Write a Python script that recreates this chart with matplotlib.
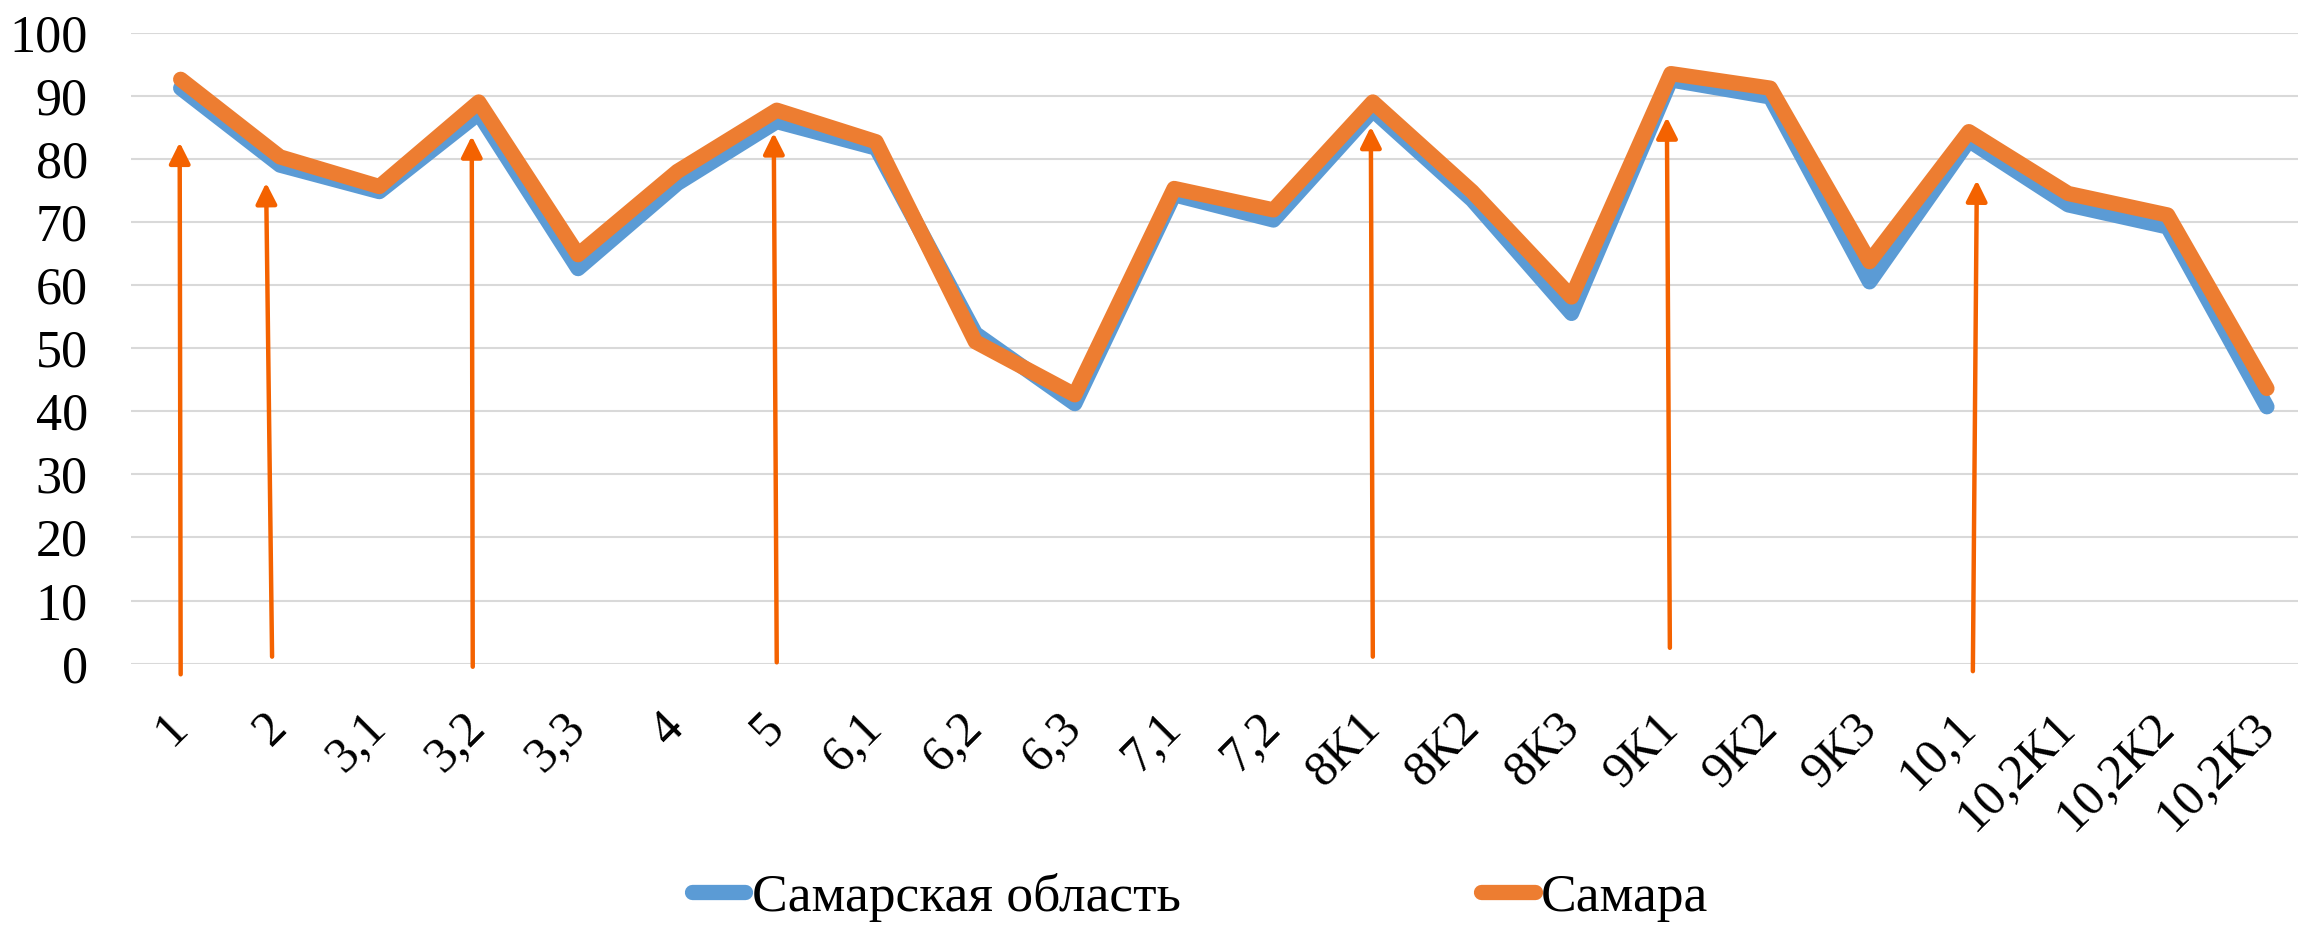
import matplotlib
matplotlib.use("Agg")
import matplotlib.pyplot as plt

plt.rcParams['font.family'] = ['Liberation Serif', 'DejaVu Serif']

categories = ["1", "2", "3,1", "3,2", "3,3", "4", "5", "6,1", "6,2", "6,3", "7,1", "7,2",
              "8К1", "8К2", "8К3", "9К1", "9К2", "9К3", "10,1", "10,2К1", "10,2К2", "10,2К3"]
oblast = [91.2, 79.0, 74.8, 87.2, 62.6, 76.1, 85.9, 81.7, 52.3, 41.2, 74.3, 70.3,
          87.7, 73.5, 55.5, 92.5, 89.8, 60.5, 82.9, 72.7, 69.2, 40.7]
samara = [92.6, 80.3, 75.6, 89.0, 64.8, 78.0, 87.7, 82.7, 51.0, 42.6, 75.3, 71.9,
          89.0, 74.8, 58.1, 93.5, 91.2, 63.7, 84.3, 74.5, 71.1, 43.6]
series_names = ["Самарская область", "Самара"]
yticks = list(range(0, 101, 10))

# annotation arrows: (x_start, y_start, x_tip, y_tip) in category index / value units
arrow_x0 = [0.00, 0.92, 2.94, 6.00, 12.00, 14.99, 18.04]
arrow_y0 = [-1.7, 1.1, -0.5, 0.2, 1.1, 2.5, -1.2]
arrow_x1 = [-0.01, 0.86, 2.93, 5.97, 11.98, 14.96, 18.08]
arrow_y1 = [82.6, 76.2, 83.6, 84.1, 85.1, 86.6, 76.6]

blue = '#5B9BD5'
orange = '#ED7D31'
arrow_color = '#F46200'

W, H = 2298, 932
fig = plt.figure(figsize=(W / 100, H / 100), dpi=100)
ax = fig.add_axes([131 / W, (H - 663.6) / H, 2185.6 / W, 631.0 / H])

x = list(range(len(categories)))
l1, = ax.plot(x, oblast, color=blue, lw=11, solid_capstyle='round',
              solid_joinstyle='round', zorder=3, clip_on=False, label=series_names[0])
l2, = ax.plot(x, samara, color=orange, lw=11, solid_capstyle='round',
              solid_joinstyle='round', zorder=4, clip_on=False, label=series_names[1])

for xs, ys, xt, yt in zip(arrow_x0, arrow_y0, arrow_x1, arrow_y1):
    ax.annotate('', xy=(xt, yt), xytext=(xs, ys), annotation_clip=False,
                arrowprops=dict(arrowstyle='-|>,head_length=0.6,head_width=0.3',
                                mutation_scale=21, lw=3.2, color=arrow_color,
                                shrinkA=0, shrinkB=0),
                zorder=5)

ax.set_xlim(-0.5, len(categories) - 0.5)
ax.set_ylim(0, 100)
ax.set_yticks(yticks)
ax.set_yticklabels([str(v) for v in yticks], fontsize=37.5)
ax.set_xticks(x)
ax.set_xticklabels(categories, fontsize=36, rotation=45, ha='right',
                   va='center', rotation_mode='anchor')
ax.tick_params(axis='both', length=0)
ax.tick_params(axis='y', pad=31)
ax.tick_params(axis='x', pad=41)
for s in ax.spines.values():
    s.set_visible(False)
ax.yaxis.grid(True, color='#D9D9D9', lw=1.5)
ax.set_axisbelow(True)

fig.legend(handles=[l1, l2], labels=series_names, loc='center',
           bbox_to_anchor=(1200 / W, 35 / H), ncol=2, frameon=False,
           fontsize=38.5, handlelength=1.0, handletextpad=0.12,
           columnspacing=5.62, borderaxespad=0, borderpad=0)

fig.savefig('out.png', dpi=100)
